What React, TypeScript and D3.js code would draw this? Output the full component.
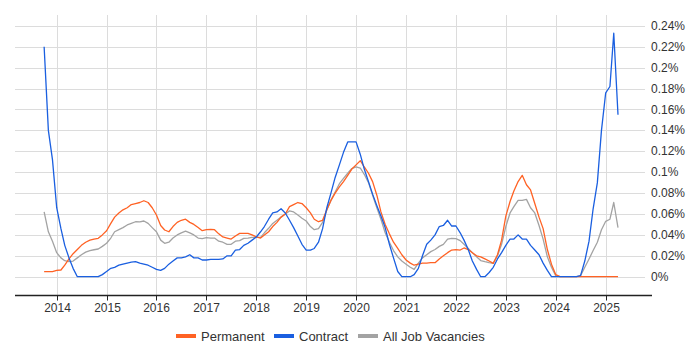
import * as d3 from "d3";

const W = 700;
const H = 350;

// monthly points, first one is Oct 2013
const START_MONTH = new Date(2013, 9, 1);

const permanent = [
  0.0048, 0.0048, 0.0048,
  0.006, 0.0064, 0.011, 0.017, 0.022, 0.026, 0.03, 0.033, 0.035, 0.036, 0.0367, 0.04,
  0.044, 0.051, 0.057, 0.061, 0.064, 0.066, 0.069, 0.07, 0.071, 0.0727, 0.071, 0.066,
  0.059, 0.049, 0.0447, 0.043, 0.048, 0.052, 0.054, 0.055, 0.052, 0.05, 0.047, 0.044,
  0.045, 0.0453, 0.045, 0.041, 0.038, 0.037, 0.036, 0.039, 0.0415, 0.0415, 0.0415, 0.04,
  0.038, 0.037, 0.04, 0.043, 0.048, 0.052, 0.057, 0.06, 0.067, 0.069, 0.071, 0.07,
  0.066, 0.061, 0.055, 0.0526, 0.054, 0.064, 0.073, 0.08, 0.086, 0.091, 0.097, 0.103,
  0.107, 0.111, 0.105, 0.099, 0.091, 0.078, 0.062, 0.05, 0.041, 0.033, 0.027, 0.021,
  0.016, 0.013, 0.011, 0.012, 0.013, 0.013, 0.0134, 0.0134, 0.017, 0.02, 0.023, 0.0255,
  0.026, 0.0255, 0.0275, 0.026, 0.023, 0.02, 0.019, 0.017, 0.015, 0.0128, 0.021, 0.035,
  0.058, 0.072, 0.082, 0.091, 0.097, 0.088, 0.083, 0.07, 0.057, 0.046, 0.026, 0.012,
  0.002, 0, 0, 0, 0, 0, 0, 0, 0, 0, 0, 0,
  0, 0, 0, 0,
];

const contract = [
  0.22, 0.14, 0.112,
  0.066, 0.046, 0.03, 0.018, 0.008, 0, 0, 0, 0, 0, 0, 0.002,
  0.005, 0.008, 0.009, 0.011, 0.012, 0.013, 0.014, 0.0144, 0.013, 0.012, 0.011, 0.009,
  0.007, 0.006, 0.008, 0.012, 0.015, 0.018, 0.018, 0.019, 0.021, 0.018, 0.018, 0.016,
  0.016, 0.0165, 0.0166, 0.0166, 0.017, 0.02, 0.02, 0.0255, 0.026, 0.03, 0.032, 0.035,
  0.038, 0.043, 0.048, 0.055, 0.061, 0.062, 0.065, 0.061, 0.054, 0.047, 0.039, 0.031,
  0.0255, 0.0255, 0.027, 0.033, 0.046, 0.066, 0.08, 0.095, 0.107, 0.119, 0.129, 0.129,
  0.129, 0.117, 0.103, 0.091, 0.079, 0.068, 0.058, 0.047, 0.031, 0.018, 0.005, 0,
  0, 0, 0.002, 0.008, 0.02, 0.031, 0.035, 0.04, 0.048, 0.049, 0.054, 0.0485,
  0.0485, 0.042, 0.035, 0.026, 0.015, 0.007, 0, 0, 0.004, 0.009, 0.017, 0.023,
  0.03, 0.036, 0.036, 0.04, 0.036, 0.036, 0.03, 0.0255, 0.021, 0.013, 0.006, 0,
  0, 0, 0, 0, 0, 0, 0.001, 0.015, 0.034, 0.065, 0.09, 0.14,
  0.176, 0.182, 0.233, 0.155,
];

const allJobs = [
  0.062, 0.043, 0.034,
  0.023, 0.018, 0.0153, 0.0144, 0.015, 0.018, 0.021, 0.0235, 0.025, 0.0258, 0.0265, 0.029,
  0.032, 0.037, 0.043, 0.045, 0.047, 0.0495, 0.051, 0.0526, 0.0525, 0.0533, 0.051, 0.047,
  0.043, 0.035, 0.032, 0.033, 0.037, 0.04, 0.042, 0.0437, 0.042, 0.04, 0.037, 0.0365,
  0.0373, 0.037, 0.037, 0.034, 0.033, 0.031, 0.031, 0.034, 0.0345, 0.0367, 0.037, 0.0377,
  0.0377, 0.0377, 0.042, 0.0463, 0.051, 0.054, 0.057, 0.06, 0.063, 0.062, 0.059, 0.056,
  0.0533, 0.048, 0.045, 0.046, 0.052, 0.064, 0.073, 0.081, 0.089, 0.094, 0.099, 0.1035,
  0.105, 0.104, 0.098, 0.09, 0.078, 0.066, 0.055, 0.042, 0.033, 0.025, 0.019, 0.015,
  0.012, 0.009, 0.007, 0.013, 0.018, 0.021, 0.024, 0.026, 0.029, 0.031, 0.036, 0.0367,
  0.0365, 0.0345, 0.031, 0.027, 0.023, 0.019, 0.0155, 0.0144, 0.0134, 0.0128, 0.02, 0.031,
  0.048, 0.061, 0.067, 0.073, 0.073, 0.074, 0.066, 0.061, 0.049, 0.036, 0.019, 0.009,
  0.001, 0, 0, 0, 0, 0, 0.001, 0.009, 0.017, 0.025, 0.033, 0.045,
  0.053, 0.055, 0.071, 0.047,
];

const yTicks = [0, 0.02, 0.04, 0.06, 0.08, 0.1, 0.12, 0.14, 0.16, 0.18, 0.2, 0.22, 0.24];
const years = [2014, 2015, 2016, 2017, 2018, 2019, 2020, 2021, 2022, 2023, 2024, 2025];

const series = [
  { name: "Permanent", values: permanent, color: "#ff6224" },
  { name: "Contract", values: contract, color: "#1a5fe0" },
  { name: "All Job Vacancies", values: allJobs, color: "#a3a3a3" },
];

const FONT = "'Liberation Sans', Arial, sans-serif";

export default function App() {
  const left = 15;
  const right = 652;
  const axisY = 295.5;
  const top = 15;

  const x = d3
    .scaleTime()
    .domain([new Date(2014, 0, 1), new Date(2025, 0, 1)])
    .range([56.7, 605.7]);
  const y = d3.scaleLinear().domain([0, 0.24]).range([276.7, 25.9]);

  const dates = permanent.map((_, i) => d3.timeMonth.offset(START_MONTH, i));

  const line = d3
    .line<number>()
    .x((_, i) => x(dates[i]))
    .y((d) => y(d));

  const fmt = (v: number) => `${+v.toFixed(2)}%`;

  // draw order: gray underneath, then orange, blue on top
  const drawOrder = [series[2], series[0], series[1]];

  const legendItems = [
    { s: series[0], x: 176 },
    { s: series[1], x: 274 },
    { s: series[2], x: 358 },
  ];

  return (
    <div style={{ position: "absolute", left: 0, top: 0 }}>
      <svg width={W} height={H} style={{ display: "block" }} fontFamily={FONT}>
        <rect width={W} height={H} fill="#fff" />
        {yTicks.map((t) => (
          <line
            key={"gy" + t}
            x1={left}
            x2={645}
            y1={Math.round(y(t)) + 0.5}
            y2={Math.round(y(t)) + 0.5}
            stroke="#dcdcdc"
            strokeWidth={1}
          />
        ))}
        {years.map((yr) => {
          const px = Math.round(x(new Date(yr, 0, 1))) + 0.5;
          return (
            <line key={"gx" + yr} x1={px} x2={px} y1={top} y2={axisY} stroke="#dcdcdc" strokeWidth={1} />
          );
        })}
        {drawOrder.map((s) => (
          <path
            key={s.name}
            d={line(s.values) || ""}
            fill="none"
            stroke={s.color}
            strokeWidth={1.3}
            strokeLinejoin="round"
          />
        ))}
        <line x1={left} x2={right} y1={axisY} y2={axisY} stroke="#222" strokeWidth={1.5} />
        {years.map((yr) => {
          const px = Math.round(x(new Date(yr, 0, 1))) + 0.5;
          return (
            <g key={"xt" + yr}>
              <line x1={px} x2={px} y1={axisY} y2={axisY + 5} stroke="#222" strokeWidth={1} />
              <text x={px} y={312} textAnchor="middle" fontSize={12} fill="#333">
                {yr}
              </text>
            </g>
          );
        })}
        {yTicks.map((t) => (
          <text key={"yl" + t} x={651} y={y(t) + 4} fontSize={12} fill="#333">
            {fmt(t)}
          </text>
        ))}
        {legendItems.map(({ s, x: lx }) => (
          <g key={"lg" + s.name}>
            <rect x={lx} y={334} width={20} height={4} fill={s.color} />
            <text x={lx + 25} y={340.5} fontSize={13} fill="#333">
              {s.name}
            </text>
          </g>
        ))}
      </svg>
    </div>
  );
}
